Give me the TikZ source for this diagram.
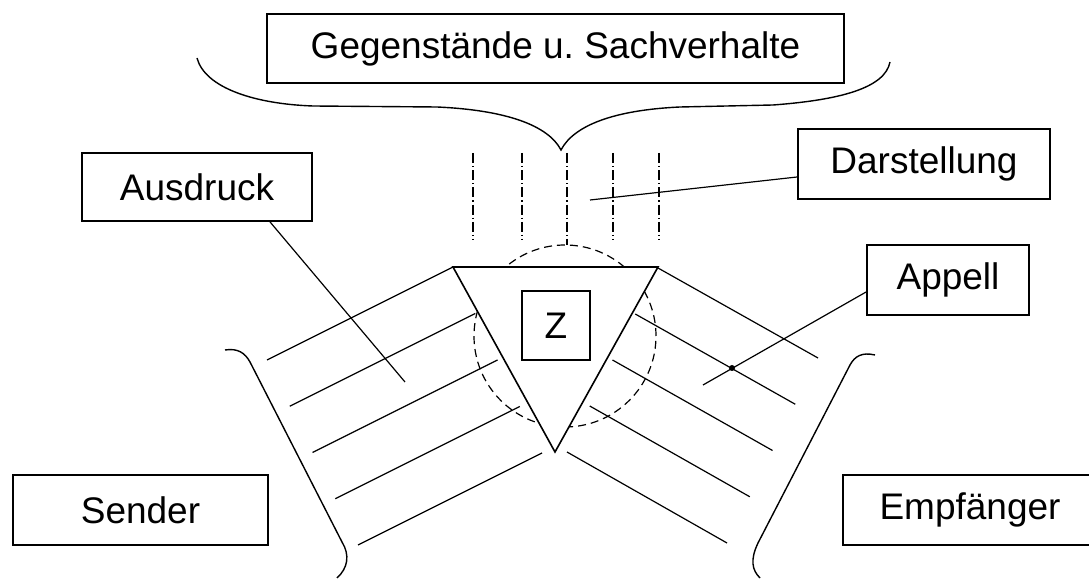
\documentclass[tikz,border=0pt]{standalone}
\usepackage{fontspec}
\setmainfont{Liberation Sans}

\begin{document}
\begin{tikzpicture}[x=0.5pt, y=-0.5pt,
    box/.style={draw, line width=0.9pt, inner sep=0pt, font=\fontsize{18.5}{22}\selectfont},
    hatch/.style={line width=0.6pt},
    ray/.style={line width=0.6pt, dash pattern=on 5pt off 1.5pt on 0.6pt off 1.5pt},
    field/.style={line width=0.6pt, dash pattern=on 4pt off 2.5pt},
    brace/.style={line width=0.7pt}]
    \useasboundingbox (0,0) rectangle (1089,582);
    \clip (0,0) rectangle (1089,582);

    % field of the sign
    \draw[field] (565,336) circle [radius=45.5pt];
    \foreach \x in {473,522,613,659}
        \draw[ray] (\x,153) -- (\x,240);
    \draw[ray] (567,153) -- (567,245);

    \foreach \i in {0,...,4}
        \draw[hatch] ({267+22.75*\i},{360+46.25*\i}) -- ({453+22.25*\i},{267+46.5*\i});
    \foreach \i in {0,...,4}
        \draw[hatch] ({658-22.75*\i},{268+46*\i}) -- ({818-22.75*\i},{358+46.25*\i});

    \coordinate (tl) at (453,267);
    \coordinate (tr) at (658,267);
    \coordinate (tb) at (555,452);
    \filldraw[fill=white, line width=0.8pt] (tl) -- (tr) -- (tb) -- cycle;

    \node[box, minimum width=34pt, minimum height=34.5pt] (zeichen) at (556,325.5) {Z};

    % labels
    \node[box, minimum width=288.5pt, minimum height=34.5pt] (gegen) at (555.5,48.5) {Gegenstände u.\ Sachverhalte};
    \node[box, minimum width=115pt, minimum height=34pt] (ausdruck) at (197,187) {Ausdruck};
    \node[box, minimum width=126pt, minimum height=35pt] (darst) at (924,164) {Darstellung};
    \node[box, minimum width=81pt, minimum height=35pt] (appell) at (948,280) {Appell};
    \node[box, minimum width=127.5pt, minimum height=35pt] (sender) at (140.5,510) {Sender};
    \node[box, minimum width=127pt, minimum height=35pt] (empf) at (970,510) {Empfänger};

    % braces
    \draw[brace] (197,58) .. controls (205,88) and (255,104) .. (313,106) -- (437,107)
        .. controls (505,110) and (548,125) .. (561,150)
        .. controls (574,125) and (615,110) .. (680,107) -- (773,105)
        .. controls (840,100) and (885,88) .. (890,62);
    \draw[brace] (225,350) .. controls (238,348) and (245,353) .. (250,362) -- (342,542)
        .. controls (350,555) and (348,568) .. (337,578);
    \draw[brace] (875,355) .. controls (862,352) and (855,356) .. (850,365) -- (758,543)
        .. controls (750,560) and (752,570) .. (760,578);

    % connectors
    \coordinate (ausdruck end) at (405,382);
    \coordinate (darst end) at (590,200);
    \coordinate (appell end) at (703,385);
    \draw[hatch] ([xshift=36.5pt]ausdruck.south) -- (ausdruck end);
    \draw[hatch] ([yshift=-6.5pt]darst.west) -- (darst end);
    \draw[hatch] ([yshift=-6pt]appell.west) -- (appell end);
    \fill (732,368) circle [radius=1.5pt];
\end{tikzpicture}
\end{document}
